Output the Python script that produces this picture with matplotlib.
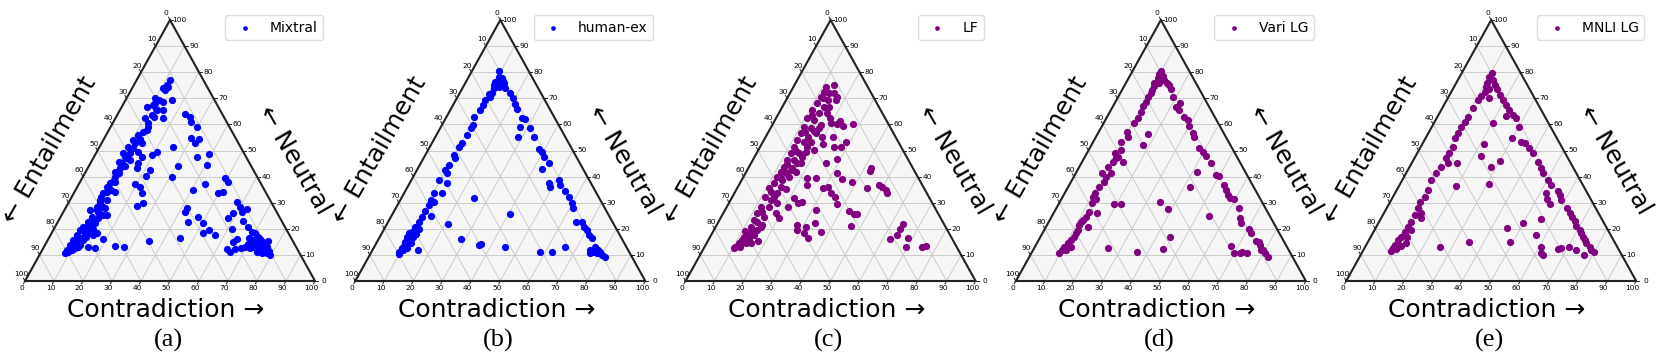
import numpy as np
import matplotlib.pyplot as plt

# ternary values: contradiction (%) and neutral (%), entailment = rest
mixtral_contra = [11.5, 11.3, 10.8, 12.3, 16.2, 9.8, 8.8, 10.3, 12.6, 16.5, 10.3, 12.3, 13, 12.2, 10.4, 9.9, 12, 13.9, 14.3, 9.5,
                  11.5, 9.4, 10.8, 10, 11.6, 10.6, 10.2, 11.9, 10.2, 10.2, 11.1, 13.9, 11, 11.1, 8.8, 10.7, 10.5, 9.7, 9.3, 9,
                  8.8, 8.6, 8.4, 8.5, 10.2, 11.8, 12.2, 12.2, 13.1, 15.6, 15.6, 12.8, 15.2, 17.9, 19, 24.3, 27.5, 35.1, 45.1, 24.3,
                  25.9, 19.4, 21.6, 23.4, 21.4, 21.9, 16.2, 16.4, 19.6, 20.6, 25.4, 30.8, 30.6, 23.2, 25.4, 26.7, 29.7, 29.8, 32.7, 32.3,
                  35.4, 39.2, 40.4, 43.6, 40.4, 41.9, 42.1, 47.5, 50.4, 53.8, 52.4, 56.7, 44.7, 49.2, 51, 51.3, 49.8, 58, 60, 62.9,
                  61.4, 58.1, 58.9, 63.7, 61.5, 65.2, 64.3, 63.5, 65.2, 66.4, 68.2, 69.3, 66.6, 68.8, 70.2, 72, 74.1, 75.9, 78, 79.5,
                  76.3, 74.3, 72.1, 72, 74.6, 76.7, 70.9, 71.4, 77.1, 75, 72.1, 9.3, 11, 12.1, 11.4, 10.3, 9.5, 11.6, 12.7, 14.8,
                  10.9, 11.9, 12.4, 10.5, 10.4, 13.7, 11.2, 11.2, 10.7, 11.6, 11.6, 12.5, 13, 11.9, 10.8, 11.4, 11.7, 15, 13, 16.9,
                  12.7, 14.4, 73, 75, 77, 78.5, 73.5, 76, 70, 69, 9.5, 10.5, 11.5, 12.5, 13.5, 10, 12.5, 13, 11.8, 10.8,
                  12, 11, 12.5, 13, 11, 12, 13.5]
mixtral_neutral = [77, 75.1, 73.8, 74.2, 69.3, 70, 66.5, 67.4, 65.5, 62.3, 62.3, 60.4, 57.9, 57.2, 54, 51.5, 50.8, 52.7, 49.6, 48.9,
                   47, 45.7, 45.1, 41.9, 41.3, 37.4, 36.1, 38.1, 33.6, 32.3, 34.2, 34.2, 29.8, 27.2, 27.2, 24.6, 22.7, 20.8, 19.5, 17.6,
                   15.7, 13.8, 11.9, 10.6, 11.9, 13.2, 15.7, 18.3, 22.1, 18.3, 25.3, 28.5, 13.2, 12.5, 16, 13.4, 13.2, 15.3, 16.6, 28.9,
                   29.8, 37, 36.1, 33.6, 40.4, 42.5, 45.3, 47.6, 48.3, 49.6, 51.5, 44.2, 40, 64, 63, 61, 59.1, 54.7, 54.3, 52.7,
                   47.6, 48.5, 44.4, 37, 34.9, 26.6, 27.8, 24.6, 22.3, 19.5, 18.3, 17.6, 22.7, 39.6, 38.1, 34.2, 33.8, 30.4, 28.2, 27.6,
                   26.6, 24, 25.9, 23.1, 20.1, 16, 15.1, 12.1, 11, 12.1, 12.5, 13.2, 20.8, 18.9, 18.3, 15.7, 13.8, 12.5, 10.6, 10,
                   10.6, 11.2, 13.2, 17, 15.1, 13.2, 15.7, 12.5, 11.4, 11.9, 14.4, 11.2, 12.5, 13.8, 16.3, 15.1, 13.2, 18.3, 19.5, 17.6,
                   20.8, 23.4, 25.9, 28.5, 31, 27.8, 38.7, 43.2, 47.6, 49.2, 52.7, 54.3, 59.1, 63.6, 68.1, 69.3, 73.2, 65.5, 63, 43.2,
                   31, 25.3, 16, 14.5, 12, 11.5, 12.5, 15.5, 14, 16.5, 12.5, 14, 15, 17, 20, 16.5, 21.5, 24, 26.5, 30,
                   35, 40, 44, 46.5, 56, 66, 68.5]

human_contra = [9.4, 10.3, 11.8, 10.1, 13.3, 10.2, 12.2, 10.8, 14.8, 11, 17.3, 11, 19.4, 10.2, 10.3, 21.1, 22.8, 10.4, 9.7, 26.4,
                27.7, 27.2, 31.1, 10.7, 10.5, 34.2, 28.5, 10.6, 10.3, 9.9, 38, 39.6, 41.1, 9.8, 11, 44.2, 43, 10, 9.8, 10.9,
                9.6, 12.8, 47.8, 49.1, 50.8, 52.3, 55.1, 57.5, 59.7, 61.1, 13, 10.2, 10.6, 10.8, 11.8, 10.7, 13.5, 10.7, 10.5, 10.3,
                10.1, 9.5, 9.5, 11.6, 9.7, 11.7, 10, 9.9, 9.7, 11.6, 15.6, 25, 20.9, 28.5, 35.6, 36.3, 45.1, 40.7, 58.3, 62.3,
                65.8, 64.6, 66.9, 68.3, 70.2, 71.7, 73.5, 75.1, 75.7, 76.2, 77.9, 78, 80.1, 81.7, 78.9, 76.6, 11, 12.5, 10.5, 9.8,
                10.4, 10.8, 11.2, 10.2, 12, 11.8]
human_neutral = [80.5, 78.3, 77.6, 76.4, 75.7, 75.1, 74.5, 73.8, 73.8, 72.2, 72.2, 70.6, 70, 69.3, 67.4, 67.8, 65.8, 65.5, 62.7, 62.3,
                 61.9, 59.1, 58.5, 59.8, 58.5, 55, 55, 55.9, 53, 51.5, 50.4, 49.6, 47.6, 48.3, 47, 45.1, 42.8, 44.4, 42.5, 41.5,
                 38.7, 37.7, 37.7, 35.9, 38.7, 36.8, 34.6, 32.3, 30, 27.8, 33.8, 33.6, 31, 29.1, 30.4, 26.9, 24.9, 24.6, 22.7, 20.8,
                 18.9, 18.3, 16.7, 16.7, 15.1, 14.7, 13.4, 12.5, 11, 12.5, 11.9, 31.7, 21.8, 16.2, 13.8, 14.2, 13.2, 25.5, 11, 11,
                 12.9, 22.7, 22.7, 20.8, 19.5, 17.6, 16.3, 11.9, 10.6, 13.2, 11.9, 10.6, 10, 9.1, 11.2, 11.2, 76, 76.8, 71.5, 10.5,
                 12, 14, 16, 17.5, 18, 20]

lf_contra = [13.6, 11.2, 11.5, 13.4, 11.3, 14.3, 17.1, 17.1, 11.4, 14.3, 11, 13.9, 10.8, 13.5, 16.9, 19.8, 22.2, 24.6, 27.8, 22.6,
             11.3, 13.9, 11.4, 14.4, 19.5, 23.2, 11.5, 14.1, 11.7, 21.1, 25.4, 27.9, 28.5, 19.2, 11.8, 14.7, 16.6, 11.8, 14.2, 17.2,
             26, 28.8, 12, 15.2, 11.9, 13.8, 11.6, 14, 22.2, 25.2, 31.7, 34.4, 38.6, 42.1, 42.4, 11.8, 16.9, 11, 14.3, 11.4,
             23.6, 29.8, 31, 33.3, 35.3, 37.3, 44.7, 48.3, 49.9, 51.6, 52.7, 21.5, 23.7, 25, 21.2, 11.6, 14.5, 11.8, 14.7, 18.1,
             20.2, 31.2, 42.9, 45.3, 46.4, 11.9, 15.7, 12, 15, 27.6, 28.8, 31.2, 33.6, 37.2, 46.4, 12.2, 14.8, 11.6, 11.7, 13.7,
             17.3, 31.7, 34, 11.2, 10.6, 10.5, 12.2, 13.5, 64.1, 63.9, 64, 62.5, 68.6, 69.3, 74.8, 76.2, 13.8, 14.8, 14.8, 15.6,
             17, 16, 16.4, 16.4, 16.5, 16.8, 16.8, 16, 11.9, 15.5, 15.2, 12.5, 15.5, 13, 16, 12.5, 15, 13, 12.5, 16.5,
             13, 13.5, 11, 14, 12.5, 18.5, 15, 12.5]
lf_neutral = [75.1, 74.2, 72.5, 71.9, 70.6, 69.3, 70.4, 69.3, 68.1, 66.8, 65.5, 64.2, 62.3, 61.7, 59.8, 60.4, 60.2, 59.5, 60, 61.3,
              59.1, 58.5, 56.6, 55.3, 55.3, 55.3, 54, 53.4, 51.5, 52.5, 51.5, 51.5, 53.4, 50.2, 48.9, 48.9, 49.6, 46.4, 46.4, 45.1,
              45.1, 46.7, 43.8, 43.2, 41.9, 41.3, 40, 38.7, 39.3, 39.3, 41.3, 39.1, 37.8, 43.4, 42.3, 37.4, 35.2, 35.5, 32.3, 32.3,
              36.8, 35.5, 36.1, 33.8, 32.3, 29.5, 35.5, 36.8, 35.9, 34.9, 33.6, 31.9, 30, 30.4, 28.5, 28.5, 28.5, 25.9, 24.6, 25.9,
              24, 27.2, 26.8, 25.5, 25.7, 23.4, 21.5, 20.8, 19.5, 21.5, 19.5, 20.8, 22.1, 18.9, 21.1, 18.3, 17.6, 17, 15.7, 16.3,
              15.5, 18.3, 16.3, 14.4, 13.2, 12.5, 12.9, 14.4, 21.7, 19.8, 17.6, 16, 16.3, 13.2, 13.2, 13.5, 31, 33.6, 36.1, 40,
              41.9, 45.1, 47.6, 53.4, 56.6, 58.5, 64.2, 66.8, 63.6, 20.8, 14.4, 57, 57.5, 50, 51.5, 45, 42.5, 39.5, 34, 30,
              26.5, 22.5, 19, 19, 15, 62.5, 72, 70]

vari_contra = [9.9, 9.8, 11.4, 10, 12.6, 9.7, 11.6, 14, 10.3, 15.3, 16.7, 10.5, 18.7, 10.7, 10.1, 10.5, 10.2, 10.7, 22.6, 22,
               23.5, 26.3, 28.4, 30.1, 10.8, 10.6, 17.5, 9.7, 10.9, 32.6, 34, 9.5, 17.9, 11.1, 37.8, 39.6, 41.6, 44.7, 11, 10.5,
               14, 9.7, 12.2, 11, 11.4, 41.8, 48.7, 50, 53.2, 54.9, 56.5, 58.1, 59.4, 10.6, 42.1, 10.3, 10.3, 12, 11.1, 19,
               21.5, 34.6, 38.7, 15, 12, 11.8, 11.1, 11.1, 14.6, 54, 63.1, 65.4, 66.5, 70.6, 71.9, 75.1, 76.4, 77.3, 79.2, 80.6,
               82.2, 78.5, 67.4, 69.6, 72.1, 72.3, 74.4, 44.8, 44.6, 36.4, 25.2, 11.6, 11.6, 11.2, 10.6, 10.1, 9.8, 9.5, 11.3, 12.4,
               11.6, 11.3, 9.2, 9.6, 11.3]
vari_neutral = [80.6, 79.3, 78.5, 77.7, 77, 76, 75.7, 76, 74.7, 75.1, 73.4, 73.2, 70.6, 71.9, 70.6, 68.7, 67, 64.9, 68.1, 66.5,
                65.5, 63, 61.7, 59.4, 62.3, 60.4, 56.3, 57.2, 55.3, 56.6, 55, 53.4, 52.1, 50.2, 50.8, 49.6, 47.9, 45.1, 47, 45.7,
                45.7, 43.8, 41.3, 40, 38.1, 41.6, 40.6, 40.2, 36.8, 34.9, 33, 31.7, 31.3, 36.1, 35.9, 33.8, 32.3, 31.3, 30, 29.5,
                29.5, 30.4, 27.6, 25.9, 26.6, 24.6, 22.7, 21.5, 20.6, 24.9, 27.8, 24, 22.3, 19.8, 18.3, 15.5, 15.1, 13.8, 11.9, 10.6,
                9.3, 11.9, 13.5, 10.9, 10.6, 11.2, 10.6, 16.7, 12.1, 11, 12.8, 18.3, 17, 15.7, 14.4, 13.2, 11.9, 10.9, 11.9, 13.2,
                19.5, 23.4, 41.3, 48.9, 47.6]

mnli_contra = [10.3, 10.4, 12.1, 10.6, 13.6, 11.2, 15.3, 12.7, 11.5, 17.3, 11.1, 14.4, 19.4, 10.8, 21.5, 23.5, 25.7, 27.5, 23.5, 30.2,
               10.6, 10.5, 10.3, 20.2, 10.1, 10.2, 10.2, 33.6, 35.2, 37.8, 39.9, 29.9, 21.3, 11.1, 22.6, 29.9, 28.2, 11.1, 11, 12.5,
               15.6, 43.3, 45.6, 47.2, 50.2, 52.3, 10.9, 10.4, 9.9, 10.8, 30.5, 19.7, 10.9, 10.4, 10.8, 52.1, 53.6, 55.7, 57.1, 58.6,
               55.4, 62.3, 64.1, 65.5, 67.2, 68.8, 55.4, 50, 45.2, 56.7, 49, 70.8, 71.9, 73.3, 74.4, 75.6, 77.3, 78.5, 79.9, 77,
               73.3, 70.4, 67.8, 67, 60.4, 61.8, 63, 34.8, 25.8, 13.9, 11, 11.1, 10.9, 10.7, 10.5, 10, 9.8, 9.9, 9.7, 11.2,
               12.3, 13.5, 12.7, 12.7, 12.9]
mnli_neutral = [79.8, 78, 77, 76, 75.1, 74.2, 73.4, 73.4, 72.5, 71.3, 70.9, 70, 69.3, 69.3, 67.4, 65.5, 63.6, 62.3, 63.3, 59.1,
                66.2, 63, 61, 60.7, 59.1, 56.6, 54.7, 53.4, 52.7, 50.8, 48.9, 54.7, 52.5, 51.5, 48, 46.1, 43.6, 48.9, 47, 45.1,
                45.3, 45.7, 43.2, 41.3, 38.7, 36.8, 43.8, 41.3, 38.7, 34.9, 37.2, 36.5, 32.3, 30.4, 27.8, 33.8, 31.3, 34.6, 33, 31,
                29.5, 27.8, 25.9, 24.6, 23.1, 21.1, 23.6, 22.1, 20.4, 17.6, 15.1, 19.5, 18.3, 16.7, 15.7, 14.4, 13.2, 11.9, 11, 10,
                11.9, 13.2, 12.5, 12.1, 13.2, 10.9, 10, 15.1, 13.2, 24, 25.3, 22.7, 20.8, 18.9, 17, 15.7, 13.8, 12.5, 11.6, 12.1,
                13.4, 14.4, 16.7, 19.5, 25.9]

panels = [
    ('Mixtral', mixtral_contra, mixtral_neutral, 'blue', '(a)'),
    ('human-ex', human_contra, human_neutral, 'blue', '(b)'),
    ('LF', lf_contra, lf_neutral, 'purple', '(c)'),
    ('Vari LG', vari_contra, vari_neutral, 'purple', '(d)'),
    ('MNLI LG', mnli_contra, mnli_neutral, 'purple', '(e)'),
]

H = np.sqrt(3) / 2
W, HT = 1661, 360

fig = plt.figure(figsize=(W / 100, HT / 100), dpi=100)

for k, (name, contra, neutral, color, tag) in enumerate(panels):
    x0 = 25 + 330.3 * k
    ax = fig.add_axes([x0 / W, 79 / HT, 290 / W, 261 / HT])
    ax.set_xlim(0, 100)
    ax.set_ylim(0, 100 * H)
    ax.axis('off')

    ax.add_patch(plt.Polygon([(0, 0), (100, 0), (50, 100 * H)], closed=True,
                             facecolor='#f6f6f6', edgecolor='none', zorder=0))

    # grid lines, one family per component
    for i in range(10, 100, 10):
        gl = dict(color='#c4c4c4', lw=0.6, zorder=1)
        ax.plot([i / 2, 100 - i / 2], [i * H, i * H], **gl)
        ax.plot([i, i + (100 - i) / 2], [0, (100 - i) * H], **gl)
        ax.plot([100 - i, (100 - i) / 2], [0, (100 - i) * H], **gl)

    ax.plot([0, 100, 50, 0], [0, 0, 100 * H, 0], color='#222222', lw=1.5,
            zorder=2, clip_on=False, solid_joinstyle='miter')

    t = 1.1
    tk = dict(color='#222222', lw=0.7, clip_on=False)
    fs = 5.4
    for i in range(0, 101, 10):
        # bottom: contradiction
        ax.plot([i, i - 0.5 * t], [0, -H * t], **tk)
        ax.text(i - 1.2, -2.3, str(i), fontsize=fs, ha='center', va='center')
        # right: neutral
        px, py = 100 - i / 2, i * H
        ax.plot([px, px + t], [py, py], **tk)
        ax.text(px + 3.2, py, str(i), fontsize=fs, ha='center', va='center')
        # left: entailment
        px, py = (100 - i) / 2, (100 - i) * H
        ax.plot([px, px - 0.5 * t], [py, py + H * t], **tk)
        ax.text(px - 1.3, py + 2.2, str(i), fontsize=fs, ha='center', va='center')

    c = np.array(contra)
    n = np.array(neutral)
    ax.scatter(c + n / 2, n * H, s=27, color=color, zorder=3, clip_on=False,
               linewidths=0, label=name)

    ax.text(48.6, -12, 'Contradiction →', fontsize=18, ha='center', va='baseline')
    ax.text(8.4, 43.5, '← Entailment', fontsize=18, ha='center', va='center',
            rotation=60, rotation_mode='anchor')
    ax.text(92.8, 40.2, '← Neutral', fontsize=18, ha='center', va='center',
            rotation=-60, rotation_mode='anchor')
    ax.text(49.3, -19.6, tag, fontsize=19, ha='center', va='center',
            family='Liberation Serif')

    ax.legend(loc='upper right', bbox_to_anchor=((x0 + 298) / W, 345 / HT),
              bbox_transform=fig.transFigure, borderaxespad=0, fontsize=10,
              markerscale=0.65, framealpha=1, edgecolor='#dddddd')

fig.savefig('out.png', dpi=100)
